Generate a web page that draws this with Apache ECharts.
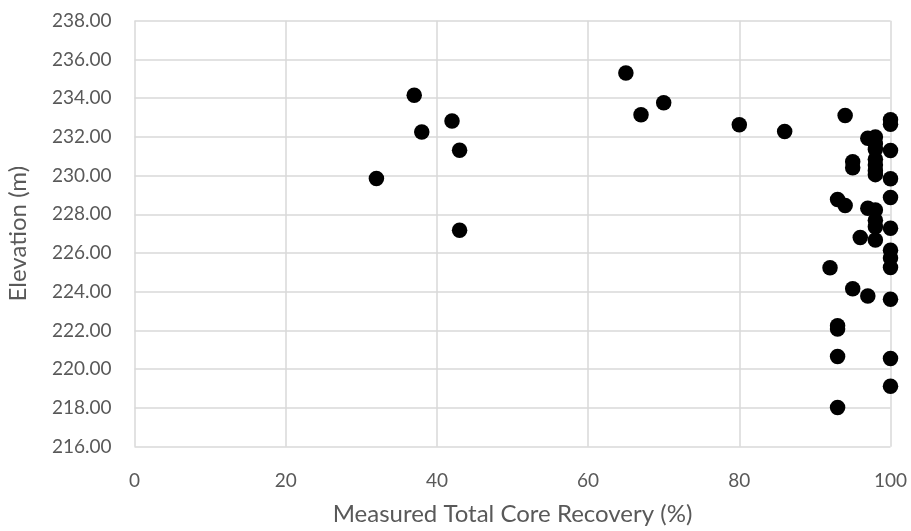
<!DOCTYPE html>
<html>
<head>
<meta charset="utf-8">
<script src="https://cdn.jsdelivr.net/npm/echarts@6/dist/echarts.min.js"></script>
<style>
html,body{margin:0;padding:0;background:#fff;}
#chart{width:911px;height:531px;}
</style>
</head>
<body>
<div id="chart"></div>
<script>
// Measured Total Core Recovery (%)
const recovery = [32, 37, 38, 42, 43, 43, 65, 67, 70, 80, 86, 94, 100, 100, 97, 98, 98, 98, 98, 98, 98, 98, 100, 95, 95, 100, 100, 93, 94, 97, 98, 98, 98, 100, 96, 98, 100, 100, 100, 92, 95, 97, 100, 93, 93, 93, 100, 100, 93];
// Elevation (m)
const elevation = [229.85, 234.15, 232.25, 232.82, 231.31, 227.18, 235.30, 233.14, 233.76, 232.63, 232.28, 233.10, 232.88, 232.65, 231.93, 232.00, 231.65, 231.35, 230.85, 230.55, 230.25, 230.05, 231.30, 230.72, 230.40, 229.84, 228.87, 228.77, 228.46, 228.31, 228.22, 227.70, 227.36, 227.28, 226.80, 226.67, 226.15, 225.75, 225.25, 225.24, 224.16, 223.78, 223.62, 222.25, 222.08, 220.66, 220.55, 219.12, 218.02];

const xTitle = 'Measured Total Core Recovery (%)';
const yTitle = 'Elevation (m)';

const points = recovery.map((x, i) => [x, elevation[i]]);

const chart = echarts.init(document.getElementById('chart'), null, {renderer: 'canvas'});
const FONT = 'Lato, "Open Sans", sans-serif';
const GRID = '#d9d9d9';
const TXT = '#595959';

chart.setOption({
  animation: false,
  backgroundColor: '#fff',
  grid: {left: 134.5, right: 20.5, top: 20.7, bottom: 84.3, containLabel: false, outerBoundsMode: 'none'},
  xAxis: {
    type: 'value', min: 0, max: 100, interval: 20,
    name: xTitle, nameLocation: 'middle', nameGap: 56,
    nameTextStyle: {color: TXT, fontSize: 24, fontFamily: FONT},
    axisLine: {show: false}, axisTick: {show: false},
    axisLabel: {color: TXT, fontSize: 19, fontFamily: FONT, margin: 25},
    splitLine: {show: true, lineStyle: {color: GRID, width: 1.5}}
  },
  yAxis: {
    type: 'value', min: 216, max: 238, interval: 2,
    name: yTitle, nameLocation: 'middle', nameGap: 104, nameRotate: 90,
    nameTextStyle: {color: TXT, fontSize: 24, fontFamily: FONT},
    axisLine: {show: false}, axisTick: {show: false},
    axisLabel: {color: TXT, fontSize: 19, fontFamily: FONT, margin: 23, formatter: v => v.toFixed(2)},
    splitLine: {show: true, lineStyle: {color: GRID, width: 1.5}}
  },
  series: [{
    type: 'scatter',
    data: points,
    symbol: 'circle',
    symbolSize: 15.5,
    itemStyle: {color: '#000', opacity: 1},
    emphasis: {disabled: true}
  }]
});
</script>
</body>
</html>
